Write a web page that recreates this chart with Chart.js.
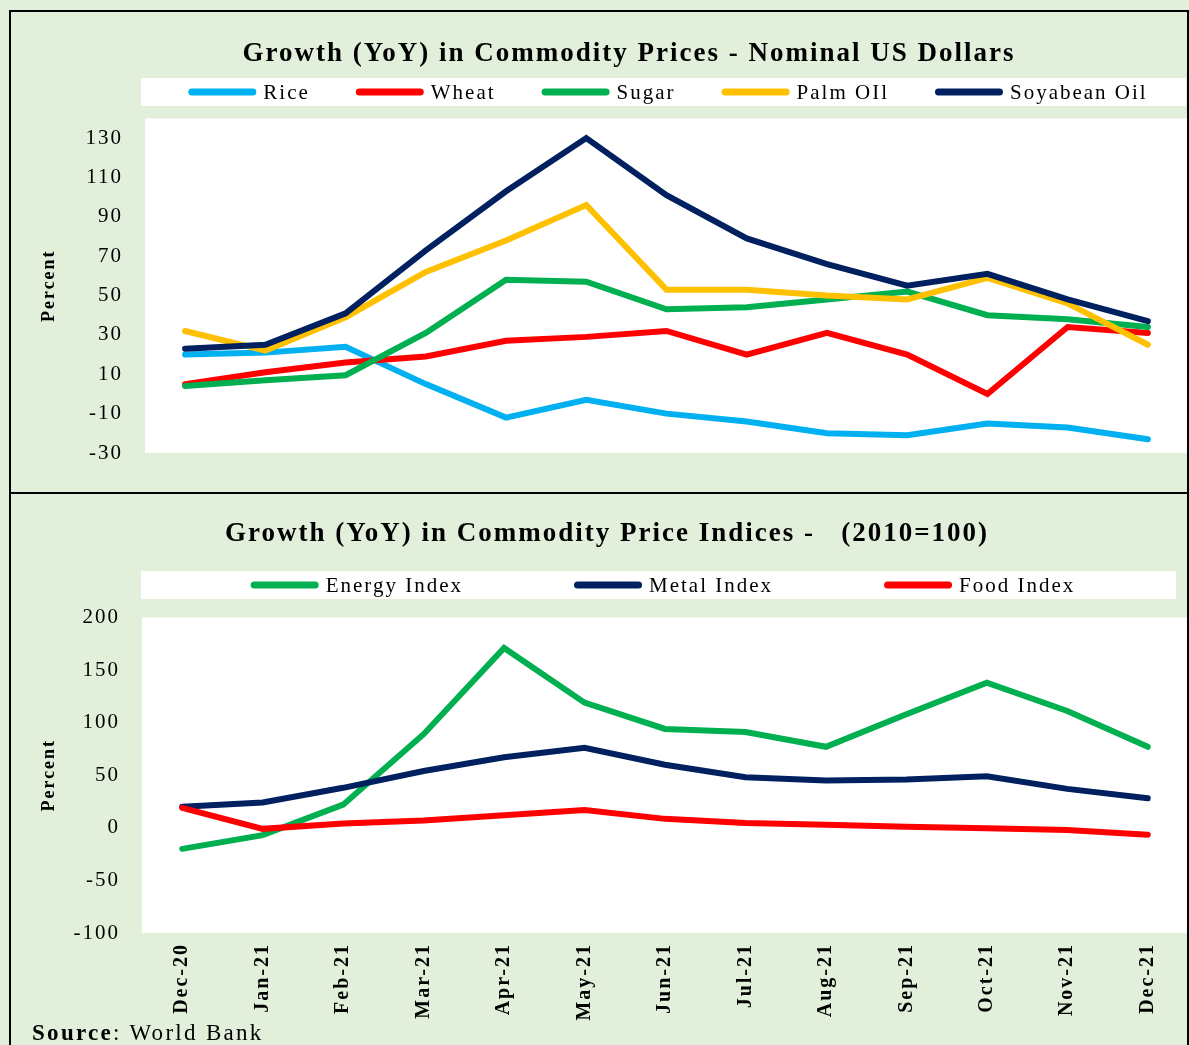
<!DOCTYPE html>
<html>
<head>
<meta charset="utf-8">
<title>Growth (YoY) in Commodity Prices</title>
<script src="https://cdn.jsdelivr.net/npm/chart.js@4.4.1/dist/chart.umd.min.js"></script>
<style>
    html, body { margin: 0; padding: 0; background: #E2EFDA; }
    body { width: 1189px; height: 1045px; position: relative; overflow: hidden; font-family: "Liberation Serif", serif; }
    #wrapTop { position: absolute; left: 0; top: 0; width: 1189px; height: 494px; }
    #wrapBottom { position: absolute; left: 0; top: 494px; width: 1189px; height: 551px; }
    .frame { position: absolute; left: 9px; top: 10px; width: 1176px; height: 1045px; border: 2px solid #000; border-bottom: none; }
    .split { position: absolute; left: 9px; top: 492px; width: 1180px; height: 2px; background: #000; }
    .source { position: absolute; left: 32px; top: 1020px; font-size: 23px; line-height: 26px; letter-spacing: 2.3px; color: #000; }
</style>
</head>
<body>
<div id="wrapTop"><canvas id="chart-prices"></canvas></div>
<div id="wrapBottom"><canvas id="chart-indices"></canvas></div>
<div class="frame"></div>
<div class="split"></div>
<div class="source"><b>Source</b>: World Bank</div>

<script>
var months = ["Dec-20", "Jan-21", "Feb-21", "Mar-21", "Apr-21", "May-21", "Jun-21",
    "Jul-21", "Aug-21", "Sep-21", "Oct-21", "Nov-21", "Dec-21"];

// top chart - commodity prices, YoY %
var rice = [20, 21, 24, 5, -12, -3, -10, -14, -20, -21, -15, -17, -23];
var wheat = [5, 11, 16, 19, 27, 29, 32, 20, 31, 20, 0, 34, 31];
var sugar = [4, 7, 9.5, 31, 58, 57, 43, 44, 48, 52, 40, 38, 34];
var palmOil = [32, 22, 39, 62, 78, 96, 53, 53, 50, 48, 59, 46, 25];
var soyabeanOil = [23, 25, 41, 73, 103, 130, 101, 79, 66, 55, 61, 48, 37];
var ticksPrices = [-30, -10, 10, 30, 50, 70, 90, 110, 130];

// bottom chart - price indices, YoY %
var energyIndex = [-20, -7, 22, 89, 171, 119, 94, 91, 77, 108, 138, 111, 77];
var metalIndex = [20, 24, 38, 54, 67, 76, 60, 48, 45, 46, 49, 37, 28];
var foodIndex = [19, -1, 4, 7, 12, 17, 8.5, 4.5, 3, 1, -0.5, -2, -6.5];
var ticksIndices = [-100, -50, 0, 50, 100, 150, 200];

var FONT = '"Liberation Serif", serif';

function makeLine(label, data, color, order) {
    return {
        label: label,
        data: data,
        borderColor: color,
        backgroundColor: color,
        borderWidth: 6,
        borderCapStyle: 'round',
        pointRadius: 0,
        tension: 0,
        order: order
    };
}

// white plot area, white legend strip, letter spacing like the original
var boxLegend = {
    id: 'boxLegend',
    beforeLayout: function (chart) {
        chart.ctx.letterSpacing = '2px';
    },
    afterLayout: function (chart) {
        // title sits a bit right of the canvas centre in the original
        var o = chart.options.plugins.boxLegend, t = chart.titleBlock;
        if (t && o.titleCenter) {
            var shift = o.titleCenter - (t.left + t.right) / 2;
            t.left += shift;
            t.right += shift;
        }
    },
    beforeDraw: function (chart) {
        var ctx = chart.ctx, a = chart.chartArea, o = chart.options.plugins.boxLegend;
        ctx.letterSpacing = '2px';
        ctx.save();
        ctx.fillStyle = '#fff';
        ctx.fillRect(a.left, a.top, a.right - a.left, a.bottom - a.top);
        ctx.fillRect(o.left, o.top, o.right - o.left, o.bottom - o.top);
        ctx.restore();
    },
    afterDraw: function (chart) {
        var ctx = chart.ctx, o = chart.options.plugins.boxLegend;
        var sets = chart.data.datasets;
        ctx.save();
        ctx.font = '21px ' + FONT;
        ctx.letterSpacing = '2px';
        var lineLen = 68, textGap = 7, total = 0, widths = [];
        sets.forEach(function (ds) {
            var w = ctx.measureText(ds.label).width;
            widths.push(w);
            total += lineLen + textGap + w;
        });
        total += o.gap * (sets.length - 1);
        var x = o.center - total / 2;
        var y = (o.top + o.bottom) / 2;
        sets.forEach(function (ds, i) {
            ctx.strokeStyle = ds.borderColor;
            ctx.lineWidth = 7;
            ctx.lineCap = 'round';
            ctx.beginPath();
            ctx.moveTo(x + 3.5, y);
            ctx.lineTo(x + lineLen - 3.5, y);
            ctx.stroke();
            ctx.fillStyle = '#000';
            ctx.textAlign = 'left';
            ctx.textBaseline = 'middle';
            ctx.fillText(ds.label, x + lineLen + textGap, y + 1);
            x += lineLen + textGap + widths[i] + o.gap;
        });
        ctx.restore();
    }
};

function yAxis(min, max, tickList, width) {
    return {
        min: min,
        max: max,
        afterBuildTicks: function (scale) {
            scale.ticks = tickList.map(function (v) { return { value: v }; });
        },
        afterFit: function (scale) { scale.width = width; },
        grid: { display: false, drawTicks: false },
        border: { display: false },
        ticks: { padding: 22, color: '#000', font: { family: FONT, size: 21 } },
        title: {
            display: true,
            text: 'Percent',
            color: '#000',
            font: { family: FONT, size: 18, weight: 'bold' },
            padding: { top: 39, bottom: 0 }
        }
    };
}

var ctxPrices = document.getElementById('chart-prices').getContext('2d');
var chartPrices = new Chart(ctxPrices, {
    type: 'line',
    data: {
        labels: months,
        datasets: [
            makeLine('Rice', rice, '#00B0F0', 5),
            makeLine('Wheat', wheat, '#FF0000', 4),
            makeLine('Sugar', sugar, '#00B050', 3),
            makeLine('Palm OIl', palmOil, '#FFC000', 2),
            makeLine('Soyabean Oil', soyabeanOil, '#002060', 1)
        ]
    },
    options: {
        responsive: true,
        maintainAspectRatio: false,
        animation: false,
        layout: { padding: { left: 0, right: 1, top: 0, bottom: 41 } },
        plugins: {
            legend: { display: false },
            tooltip: { enabled: false },
            title: {
                display: true,
                text: 'Growth (YoY) in Commodity Prices - Nominal US Dollars',
                color: '#000',
                font: { family: FONT, size: 27, weight: 'bold' },
                padding: { top: 38, bottom: 48 }
            },
            boxLegend: { left: 141, right: 1186, top: 78, bottom: 106, center: 668, gap: 46, titleCenter: 629 }
        },
        scales: {
            x: { display: false, offset: true },
            y: yAxis(-30, 140, ticksPrices, 145)
        }
    },
    plugins: [boxLegend]
});

var ctxIndices = document.getElementById('chart-indices').getContext('2d');
var chartIndices = new Chart(ctxIndices, {
    type: 'line',
    data: {
        labels: months,
        datasets: [
            makeLine('Energy Index', energyIndex, '#00B050', 3),
            makeLine('Metal Index', metalIndex, '#002060', 2),
            makeLine('Food Index', foodIndex, '#FF0000', 1)
        ]
    },
    options: {
        responsive: true,
        maintainAspectRatio: false,
        animation: false,
        layout: { padding: { left: 0, right: 1, top: 0, bottom: 0 } },
        plugins: {
            legend: { display: false },
            tooltip: { enabled: false },
            title: {
                display: true,
                text: 'Growth (YoY) in Commodity Price Indices -   (2010=100)',
                color: '#000',
                font: { family: FONT, size: 27, weight: 'bold' },
                padding: { top: 24, bottom: 67 }
            },
            boxLegend: { left: 141, right: 1176, top: 77, bottom: 105, center: 663, gap: 111, titleCenter: 607 }
        },
        scales: {
            x: {
                offset: true,
                afterFit: function (scale) { scale.height = 112; },
                grid: { display: false, drawTicks: false },
                border: { display: false },
                ticks: {
                    autoSkip: false,
                    minRotation: 90,
                    maxRotation: 90,
                    padding: 10,
                    color: '#000',
                    font: { family: FONT, size: 20, weight: 'bold' }
                }
            },
            y: yAxis(-100, 200, ticksIndices, 142)
        }
    },
    plugins: [boxLegend]
});
</script>
</body>
</html>
